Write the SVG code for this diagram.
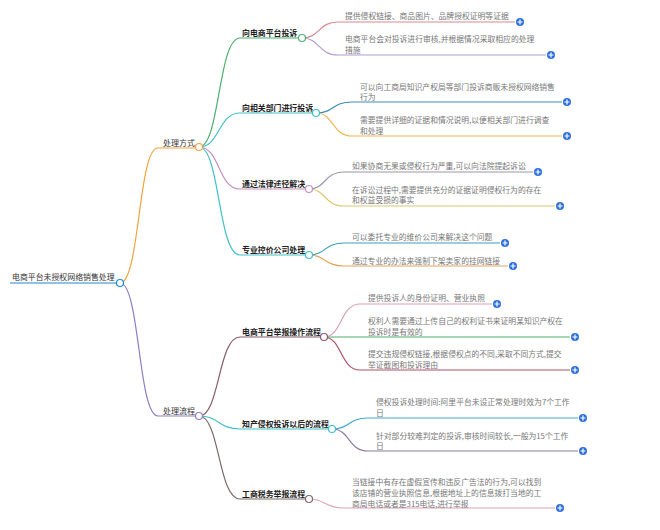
<svg xmlns="http://www.w3.org/2000/svg" width="660" height="530" viewBox="0 0 660 530">
<style>
text{font-family:"Noto Sans CJK SC","Noto Sans",sans-serif}
.t0{font-size:7.9px;fill:#333}
.t1{font-size:8px;fill:#333}
.t2{font-size:7.9px;fill:#222;font-weight:bold}
.lf{font-size:7.8px;fill:#777}
.c{fill:none;stroke-width:1.2}
.k{fill:#fff;stroke-width:1.2}
.p{fill:#2f6fde}
.pl{stroke:#fff;stroke-width:1.2}
</style>
<rect width="660" height="530" fill="#fff"/>
<g id="connectors">
<path class="c" stroke="#1e88d0" stroke-width="2" d="M10 283H116"/>
<path class="c" stroke="#f2a33a" d="M120 283C140 283 138 148 158 148H196"/>
<path class="c" stroke="#8e7cc3" d="M120 283C140 283 138 416 158 416H196"/>
<path class="c" stroke="#4caf6d" d="M199 147C220 147 218 38 240 38H299"/>
<path class="c" stroke="#3fc1c9" d="M199 147C220 147 218 113 240 113H313"/>
<path class="c" stroke="#c58fc0" d="M199 147C220 147 218 189 240 189H306"/>
<path class="c" stroke="#3fc1c9" d="M199 147C220 147 218 255 240 255H306"/>
<path class="c" stroke="#8a5a6a" d="M199 416C220 416 218 337 240 337H321"/>
<path class="c" stroke="#3fc1c9" d="M199 416C220 416 218 429 240 429H329"/>
<path class="c" stroke="#7d6b6b" d="M199 416C220 416 218 499 240 499H306"/>
<path class="c" stroke="#d88a8f" d="M302 38C320 38 318 22 338 22H515"/>
<path class="c" stroke="#b39ad3" d="M302 38C320 38 318 55 338 55H546"/>
<path class="c" stroke="#3a8fb7" d="M316 113C334 113 332 102 352 102H562"/>
<path class="c" stroke="#f2b95a" d="M316 113C334 113 332 136 352 136H562"/>
<path class="c" stroke="#9a96a8" d="M309 189C326 189 324 172 344 172H533"/>
<path class="c" stroke="#d9c96a" d="M309 189C326 189 324 206 344 206H555"/>
<path class="c" stroke="#3a9fb7" d="M309 255C326 255 324 243 344 243H500"/>
<path class="c" stroke="#e3a55a" d="M309 255C326 255 324 266 344 266H508"/>
<path class="c" stroke="#d8a0b8" d="M324 337C342 337 340 304 360 304H492"/>
<path class="c" stroke="#4caf6d" d="M324 337H570"/>
<path class="c" stroke="#b0506a" d="M324 337C342 337 340 370 360 370H570"/>
<path class="c" stroke="#3fa9c9" d="M332 429C350 429 348 418 368 418H578"/>
<path class="c" stroke="#8c7d9c" d="M332 429C350 429 348 451 368 451H578"/>
<path class="c" stroke="#e0a0b8" d="M309 499C326 499 324 508 344 508H555"/>
</g>
<g id="root"><text class="t0" x="12" y="280">电商平台未授权网络销售处理</text><circle class="k" stroke="#1e88d0" cx="120" cy="283" r="3.5"/></g>
<g id="n1"><text class="t1" x="163" y="146">处理方式</text><circle class="k" stroke="#f2a33a" cx="199" cy="147" r="3.5"/></g>
<g id="n2"><text class="t1" x="163" y="414">处理流程</text><circle class="k" stroke="#8e7cc3" cx="199" cy="416" r="3.5"/></g>
<g id="n11"><text class="t2" x="242" y="36">向电商平台投诉</text><circle class="k" stroke="#4caf6d" cx="302" cy="38" r="3.5"/></g>
<g id="n12"><text class="t2" x="242" y="111">向相关部门进行投诉</text><circle class="k" stroke="#3fc1c9" cx="316" cy="113" r="3.5"/></g>
<g id="n13"><text class="t2" x="242" y="187">通过法律途径解决</text><circle class="k" stroke="#c58fc0" cx="309" cy="189" r="3.5"/></g>
<g id="n14"><text class="t2" x="242" y="253">专业控价公司处理</text><circle class="k" stroke="#3fc1c9" cx="309" cy="255" r="3.5"/></g>
<g id="n21"><text class="t2" x="242" y="335">电商平台举报操作流程</text><circle class="k" stroke="#8a5a6a" cx="324" cy="337" r="3.5"/></g>
<g id="n22"><text class="t2" x="242" y="427">知产侵权投诉以后的流程</text><circle class="k" stroke="#3fc1c9" cx="332" cy="429" r="3.5"/></g>
<g id="n23"><text class="t2" x="242" y="497">工商税务举报流程</text><circle class="k" stroke="#7d6b6b" cx="309" cy="499" r="3.5"/></g>
<g id="l1a"><text class="lf" x="345" y="19">提供侵权链接、商品图片、品牌授权证明等证据</text><circle class="p" cx="520" cy="22" r="4"/><path class="pl" d="M517.5 22h5M520 19.5v5"/></g>
<g id="l1b"><text class="lf" x="345" y="42">电商平台会对投诉进行审核,并根据情况采取相应的处理</text><text class="lf" x="345" y="53">措施</text><circle class="p" cx="551" cy="55" r="4"/><path class="pl" d="M548.5 55h5M551 52.5v5"/></g>
<g id="l2a"><text class="lf" x="360" y="90">可以向工商局知识产权局等部门投诉商贩未授权网络销售</text><text class="lf" x="360" y="100">行为</text><circle class="p" cx="567" cy="102" r="4"/><path class="pl" d="M564.5 102h5M567 99.5v5"/></g>
<g id="l2b"><text class="lf" x="360" y="123">需要提供详细的证据和情况说明,以便相关部门进行调查</text><text class="lf" x="360" y="134">和处理</text><circle class="p" cx="567" cy="136" r="4"/><path class="pl" d="M564.5 136h5M567 133.5v5"/></g>
<g id="l3a"><text class="lf" x="352" y="169">如果协商无果或侵权行为严重,可以向法院提起诉讼</text><circle class="p" cx="538" cy="172" r="4"/><path class="pl" d="M535.5 172h5M538 169.5v5"/></g>
<g id="l3b"><text class="lf" x="352" y="193">在诉讼过程中,需要提供充分的证据证明侵权行为的存在</text><text class="lf" x="352" y="203">和权益受损的事实</text><circle class="p" cx="560" cy="206" r="4"/><path class="pl" d="M557.5 206h5M560 203.5v5"/></g>
<g id="l4a"><text class="lf" x="352" y="240">可以委托专业的维价公司来解决这个问题</text><circle class="p" cx="505" cy="243" r="4"/><path class="pl" d="M502.5 243h5M505 240.5v5"/></g>
<g id="l4b"><text class="lf" x="352" y="264">通过专业的办法来强制下架卖家的挂网链接</text><circle class="p" cx="513" cy="266" r="4"/><path class="pl" d="M510.5 266h5M513 263.5v5"/></g>
<g id="l5a"><text class="lf" x="368" y="301">提供投诉人的身份证明、营业执照</text><circle class="p" cx="497" cy="304" r="4"/><path class="pl" d="M494.5 304h5M497 301.5v5"/></g>
<g id="l5b"><text class="lf" x="368" y="324">权利人需要通过上传自己的权利证书来证明某知识产权在</text><text class="lf" x="368" y="335">投诉时是有效的</text><circle class="p" cx="575" cy="337" r="4"/><path class="pl" d="M572.5 337h5M575 334.5v5"/></g>
<g id="l5c"><text class="lf" x="368" y="357">提交违规侵权链接,根据侵权点的不同,采取不同方式,提交</text><text class="lf" x="368" y="368">举证截图和投诉理由</text><circle class="p" cx="575" cy="370" r="4"/><path class="pl" d="M572.5 370h5M575 367.5v5"/></g>
<g id="l6a"><text class="lf" x="376" y="405">侵权投诉处理时间:阿里平台未设正常处理时效为7个工作</text><text class="lf" x="376" y="416">日</text><circle class="p" cx="583" cy="418" r="4"/><path class="pl" d="M580.5 418h5M583 415.5v5"/></g>
<g id="l6b"><text class="lf" x="376" y="439">针对部分较难判定的投诉,审核时间较长,一般为15个工作</text><text class="lf" x="376" y="449">日</text><circle class="p" cx="583" cy="451" r="4"/><path class="pl" d="M580.5 451h5M583 448.5v5"/></g>
<g id="l7a"><text class="lf" x="352" y="485">当链接中有存在虚假宣传和违反广告法的行为,可以找到</text><text class="lf" x="352" y="496">该店铺的营业执照信息,根据地址上的信息拨打当地的工</text><text class="lf" x="352" y="507">商局电话或者是315电话,进行举报</text><circle class="p" cx="560" cy="508" r="4"/><path class="pl" d="M557.5 508h5M560 505.5v5"/></g>
</svg>
